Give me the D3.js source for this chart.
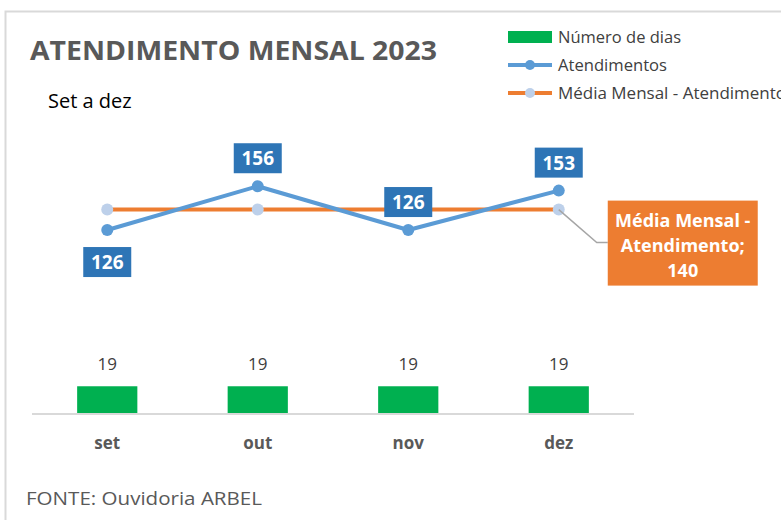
<!DOCTYPE html>
<html>
<head>
<meta charset="utf-8">
<script src="https://cdn.jsdelivr.net/npm/d3@7"></script>
<style>
  body { margin: 0; background: #fff; }
  svg { display: block; font-family: "Open Sans", "Noto Sans", sans-serif; }
</style>
</head>
<body>
<div id="chart"></div>
<script>
// dados do gráfico
var meses = ["set", "out", "nov", "dez"];
var atendimentos = [126, 156, 126, 153];
var numeroDias = [19, 19, 19, 19];
var mediaMensal = [140, 140, 140, 140];
var legendas = ["Número de dias", "Atendimentos", "Média Mensal - Atendimento"];

var width = 781, height = 520;

var svg = d3.select("#chart").append("svg")
  .attr("width", width)
  .attr("height", height);

// moldura do gráfico
svg.append("path")
  .attr("d", "M5.5," + height + "V11.5H" + width)
  .attr("fill", "none")
  .attr("stroke", "#d9d9d9")
  .attr("stroke-width", 2);

// escalas
var x = d3.scaleBand().domain(meses).range([32, 634]).paddingInner(0.6).paddingOuter(0.3);
var y = d3.scaleLinear().domain([0, 200]).range([414, 122]);
var cx = d => x(d) + x.bandwidth() / 2;

// título
svg.append("text")
  .attr("x", 30).attr("y", 60)
  .attr("font-size", 27).attr("font-weight", "bold")
  .attr("fill", "#595959")
  .attr("textLength", 407).attr("lengthAdjust", "spacingAndGlyphs")
  .text("ATENDIMENTO MENSAL 2023");

svg.append("text")
  .attr("x", 48).attr("y", 108)
  .attr("font-size", 20).attr("fill", "#000")
  .text("Set a dez");

// barras - número de dias
svg.selectAll(".barra")
  .data(numeroDias)
  .enter().append("rect")
  .attr("class", "barra")
  .attr("x", (d, i) => x(meses[i]))
  .attr("y", d => y(d))
  .attr("width", x.bandwidth())
  .attr("height", d => y(0) - y(d))
  .attr("fill", "#00b050");

svg.selectAll(".rotuloBarra")
  .data(numeroDias)
  .enter().append("text")
  .attr("x", (d, i) => cx(meses[i]))
  .attr("y", d => y(d) - 16)
  .attr("text-anchor", "middle")
  .attr("font-size", 17).attr("fill", "#404040")
  .text(d => d);

// eixo x
var eixo = svg.append("g")
  .attr("transform", "translate(0," + y(0) + ")")
  .call(d3.axisBottom(x).tickSize(0).tickPadding(23));
eixo.select(".domain").attr("stroke", "#d9d9d9").attr("stroke-width", 2)
  .attr("d", "M32,0H634");
eixo.selectAll("text")
  .attr("font-size", 17).attr("font-weight", "bold")
  .attr("fill", "#595959")
  .attr("font-family", "Open Sans, sans-serif");

// linha média
var linha = d3.line().x((d, i) => cx(meses[i])).y(d => y(d));

svg.append("path")
  .datum(mediaMensal)
  .attr("d", linha)
  .attr("fill", "none")
  .attr("stroke", "#ed7d31")
  .attr("stroke-width", 4);

svg.selectAll(".pontoMedia")
  .data(mediaMensal)
  .enter().append("circle")
  .attr("cx", (d, i) => cx(meses[i]))
  .attr("cy", d => y(d))
  .attr("r", 6)
  .attr("fill", "#bdd0ea");

// linha atendimentos
svg.append("path")
  .datum(atendimentos)
  .attr("d", linha)
  .attr("fill", "none")
  .attr("stroke", "#5b9bd5")
  .attr("stroke-width", 4)
  .attr("stroke-linejoin", "round");

svg.selectAll(".pontoAtend")
  .data(atendimentos)
  .enter().append("circle")
  .attr("cx", (d, i) => cx(meses[i]))
  .attr("cy", d => y(d))
  .attr("r", 6)
  .attr("fill", "#5b9bd5");

// rótulos atendimentos (acima ou abaixo do ponto)
var posicao = [1, -1, -1, -1];
atendimentos.forEach(function (d, i) {
  var px = cx(meses[i]);
  var py = posicao[i] > 0 ? y(d) + 32 : y(d) - 28;
  svg.append("rect")
    .attr("x", px - 24).attr("y", py - 15)
    .attr("width", 48).attr("height", 30)
    .attr("fill", "#2e75b6");
  svg.append("text")
    .attr("x", px).attr("y", py + 7)
    .attr("text-anchor", "middle")
    .attr("font-size", 19).attr("font-weight", "bold")
    .attr("fill", "#fff")
    .text(d);
});

// rótulo da média
var ultimo = meses.length - 1;
var mx = cx(meses[ultimo]), my = y(mediaMensal[ultimo]);
svg.append("path")
  .attr("d", "M" + mx + "," + my + "L" + (mx + 38) + "," + (my + 33) + "H" + (mx + 49))
  .attr("fill", "none")
  .attr("stroke", "#a6a6a6")
  .attr("stroke-width", 1.5);

svg.append("rect")
  .attr("x", mx + 49).attr("y", my - 9)
  .attr("width", 150).attr("height", 85)
  .attr("fill", "#ed7d31");

var linhasRotulo = ["Média Mensal -", "Atendimento;", String(mediaMensal[ultimo])];
linhasRotulo.forEach(function (t, i) {
  svg.append("text")
    .attr("x", mx + 124).attr("y", my + 17 + i * 25)
    .attr("text-anchor", "middle")
    .attr("font-size", 18).attr("font-weight", "bold")
    .attr("fill", "#fff")
    .text(t);
});

// legenda
var leg = svg.append("g").attr("font-size", 16).attr("fill", "#404040");
var ly = [37, 65, 93];
var larguraLeg = [123, 109, 228];

leg.append("rect").attr("x", 508).attr("y", ly[0] - 6).attr("width", 44).attr("height", 12).attr("fill", "#00b050");

leg.append("line").attr("x1", 508).attr("x2", 552).attr("y1", ly[1]).attr("y2", ly[1])
  .attr("stroke", "#5b9bd5").attr("stroke-width", 4);
leg.append("circle").attr("cx", 530).attr("cy", ly[1]).attr("r", 5).attr("fill", "#5b9bd5");

leg.append("line").attr("x1", 508).attr("x2", 552).attr("y1", ly[2]).attr("y2", ly[2])
  .attr("stroke", "#ed7d31").attr("stroke-width", 4);
leg.append("circle").attr("cx", 530).attr("cy", ly[2]).attr("r", 5).attr("fill", "#bdd0ea");

legendas.forEach(function (t, i) {
  leg.append("text")
    .attr("x", 558).attr("y", ly[i] + 6)
    .attr("textLength", larguraLeg[i]).attr("lengthAdjust", "spacingAndGlyphs")
    .text(t);
});

// fonte
svg.append("text")
  .attr("x", 26).attr("y", 505)
  .attr("font-size", 19).attr("fill", "#595959")
  .attr("textLength", 236).attr("lengthAdjust", "spacingAndGlyphs")
  .text("FONTE: Ouvidoria ARBEL");
</script>
</body>
</html>
